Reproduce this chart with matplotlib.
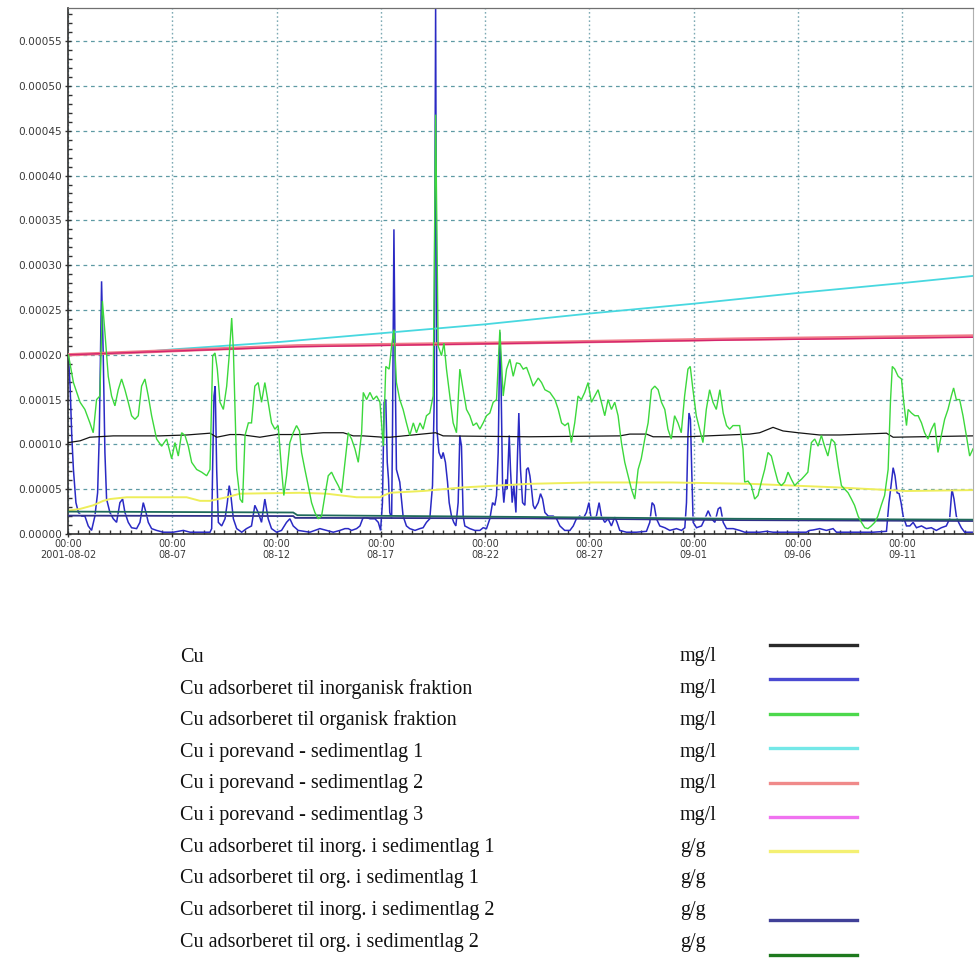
import numpy as np
import pandas as pd
import matplotlib
matplotlib.use("Agg")
import matplotlib.pyplot as plt
import matplotlib.dates as mdates
from matplotlib.lines import Line2D
from matplotlib.ticker import MultipleLocator, FuncFormatter, FixedLocator

START = pd.Timestamp("2001-08-02 00:00")
U = 1e-5  # values below are read in units of 1e-5

# ---- series (day offsets from START, values in 1e-5) ----
cu_days = [0.02, 0.58, 1.05, 2.17, 4.41, 5.69, 6.81, 7.13, 7.77, 8.25, 9.20, 10.0, 11.12,
           12.24, 13.20, 13.68, 14.16, 15.12, 15.44, 17.63, 17.99, 22.15, 26.46, 26.94,
           27.74, 28.06, 29.66, 32.69, 33.17, 33.81, 34.29, 35.01, 36.05, 37.01, 39.25,
           39.57, 43.40]
cu_vals = [10.2, 10.4, 10.8, 10.95, 10.95, 11.05, 11.25, 10.8, 11.1, 11.1, 10.8, 11.1, 11.1,
           11.3, 11.3, 10.95, 10.95, 10.8, 10.8, 11.3, 10.95, 10.85, 10.95, 11.15,
           11.15, 10.85, 10.85, 11.15, 11.3, 11.9, 11.5, 11.3, 11.05, 11.05, 11.25,
           10.8, 10.95]

inorg_days = [0.02, 0.10, 0.18, 0.26, 0.38, 0.50, 0.66, 0.81, 0.97, 1.13, 1.29, 1.42, 1.50,
              1.57, 1.61, 1.69, 1.77, 1.85, 2.01, 2.17, 2.33, 2.49, 2.62, 2.73, 2.89, 3.05,
              3.29, 3.45, 3.61, 3.74, 3.85, 4.01, 4.25, 4.57, 5.05, 5.53, 5.85, 6.33, 6.81,
              6.89, 6.94, 7.00, 7.06, 7.13, 7.21, 7.37, 7.53, 7.64, 7.73, 7.81, 7.93, 8.09,
              8.33, 8.56, 8.80, 8.96, 9.12, 9.28, 9.44, 9.60, 9.76, 10.00, 10.24, 10.48,
              10.64, 10.80, 11.04, 11.60, 12.08, 12.40, 12.72, 13.04, 13.28, 13.44, 13.60,
              13.84, 14.00, 14.13, 14.24, 14.48, 14.72, 14.88, 14.99, 15.08, 15.16, 15.24,
              15.31, 15.37, 15.43, 15.52, 15.56, 15.63, 15.69, 15.75, 15.83, 15.91, 16.07,
              16.23, 16.39, 16.64, 16.87, 17.03, 17.19, 17.35, 17.48, 17.56, 17.63, 17.69,
              17.79, 17.91, 17.99, 18.10, 18.20, 18.28, 18.39, 18.50, 18.60, 18.71, 18.79,
              18.87, 18.95, 19.03, 19.27, 19.51, 19.75, 19.91, 20.07, 20.23, 20.36, 20.47,
              20.55, 20.63, 20.71, 20.77, 20.84, 20.90, 21.00, 21.06, 21.16, 21.22, 21.30,
              21.38, 21.48, 21.56, 21.62, 21.70, 21.80, 21.91, 21.99, 22.07, 22.15, 22.23,
              22.31, 22.39, 22.55, 22.66, 22.76, 22.87, 23.03, 23.27, 23.43, 23.59, 23.82,
              24.07, 24.23, 24.38, 24.54, 24.70, 24.86, 24.98, 25.07, 25.18, 25.34, 25.47,
              25.58, 25.74, 25.90, 26.06, 26.22, 26.33, 26.46, 26.78, 27.26, 27.74, 27.90,
              28.01, 28.11, 28.22, 28.38, 28.62, 28.86, 29.18, 29.42, 29.58, 29.66, 29.73,
              29.78, 29.85, 29.91, 29.98, 30.14, 30.38, 30.54, 30.70, 30.86, 31.02, 31.18,
              31.29, 31.42, 31.58, 31.90, 32.21, 32.45, 33.17, 33.49, 33.81, 34.61, 35.41,
              35.57, 35.73, 36.05, 36.37, 36.69, 36.85, 37.49, 38.61, 39.25, 39.37, 39.45,
              39.57, 39.66, 39.76, 39.86, 39.95, 40.05, 40.21, 40.37, 40.53, 40.69, 40.93,
              41.16, 41.40, 41.64, 41.88, 42.12, 42.28, 42.39, 42.49, 42.60, 42.71, 42.84,
              43.00, 43.40]
inorg_vals = [19.9, 16.5, 11.0, 7.2, 3.5, 2.4, 2.0, 2.0, 0.9, 0.4, 2.0, 4.6, 11.0,
              22.0, 28.2, 19.9, 9.1, 3.9, 2.4, 1.7, 1.3, 3.5, 3.9, 2.4, 1.3, 0.7,
              0.6, 1.3, 3.5, 2.4, 1.3, 0.6, 0.4, 0.2, 0.2, 0.4, 0.2, 0.2, 0.2,
              0.6, 8.0, 15.4, 16.5, 7.2, 1.3, 0.9, 1.7, 3.5, 5.4, 4.3, 1.7, 0.6,
              0.2, 0.6, 0.9, 3.2, 2.4, 1.3, 3.9, 1.7, 0.6, 0.2, 0.4, 1.3,
              1.7, 0.9, 0.4, 0.2, 0.6, 0.4, 0.2, 0.4, 0.6, 0.6, 0.4,
              0.6, 0.9, 1.7, 1.9, 1.7, 1.7, 1.3, 0.4, 3.5, 14.7, 15.0,
              8.0, 6.1, 2.4, 1.7, 11.0, 34.0, 18.4, 7.2, 6.5, 5.8, 2.0,
              0.9, 0.6, 0.4, 0.6, 0.7, 1.3, 1.7, 5.4, 14.7, 59.0, 11.7,
              9.1, 8.4, 9.1, 8.0, 5.8, 3.5, 2.0, 1.3, 0.9, 3.5, 11.0,
              9.8, 2.0, 0.9, 0.6, 0.4, 0.4, 0.7, 0.6, 1.7, 3.5, 3.2,
              4.3, 9.1, 22.5, 16.5, 5.4, 3.5, 6.1, 5.0, 11.0, 7.2, 3.5,
              5.4, 2.4, 9.1, 13.5, 7.2, 3.5, 3.2, 7.2, 7.4, 6.5, 5.0,
              3.2, 2.8, 3.5, 4.5, 3.9, 2.4, 2.0, 2.0, 1.7, 0.9, 0.4,
              0.4, 0.9, 1.7, 2.0, 1.7, 2.4, 3.5, 2.0, 1.7, 2.0, 3.5,
              2.0, 1.3, 1.7, 0.9, 1.9, 1.3, 0.4, 0.2, 0.2, 0.3, 1.3,
              3.5, 3.2, 1.7, 0.9, 0.7, 0.4, 0.6, 0.4, 0.7, 3.5, 11.0,
              13.5, 12.8, 7.2, 1.3, 0.7, 0.9, 1.7, 2.6, 1.7, 1.3, 2.8,
              3.0, 1.3, 0.6, 0.6, 0.4, 0.2, 0.2, 0.3, 0.2, 0.2, 0.2,
              0.4, 0.45, 0.6, 0.4, 0.6, 0.2, 0.2, 0.2, 0.3, 3.5, 5.0,
              7.4, 6.5, 4.6, 4.5, 3.5, 2.0, 0.9, 0.9, 1.3, 0.7, 0.9,
              0.6, 0.7, 0.4, 0.7, 0.9, 1.7, 5.0, 3.9, 2.0, 1.3, 0.7,
              0.2, 0.2]

org_days = [0.02, 0.26, 0.58, 0.81, 1.05, 1.21, 1.37, 1.53, 1.65, 1.77, 1.93, 2.09, 2.25,
            2.41, 2.57, 2.73, 2.89, 3.05, 3.21, 3.37, 3.53, 3.69, 3.85, 4.01, 4.25, 4.49,
            4.73, 4.97, 5.13, 5.29, 5.45, 5.61, 5.77, 5.93, 6.17, 6.41, 6.65, 6.81, 6.94,
            7.05, 7.16, 7.29, 7.45, 7.61, 7.73, 7.85, 7.93, 8.09, 8.25, 8.37, 8.49, 8.65,
            8.80, 8.96, 9.12, 9.28, 9.44, 9.60, 9.76, 9.92, 10.08, 10.24, 10.35, 10.48,
            10.64, 10.80, 10.96, 11.10, 11.20, 11.36, 11.52, 11.68, 11.84, 12.00, 12.16,
            12.32, 12.48, 12.64, 12.80, 12.96, 13.12, 13.28, 13.44, 13.60, 13.76, 13.92,
            14.08, 14.16, 14.32, 14.48, 14.64, 14.80, 14.96, 15.12, 15.24, 15.40, 15.52,
            15.63, 15.75, 15.91, 16.07, 16.23, 16.39, 16.56, 16.71, 16.88, 17.03, 17.19,
            17.35, 17.51, 17.63, 17.75, 17.91, 18.03, 18.15, 18.31, 18.47, 18.63, 18.79,
            18.95, 19.11, 19.27, 19.43, 19.59, 19.75, 19.91, 20.07, 20.23, 20.39, 20.55,
            20.71, 20.87, 21.03, 21.19, 21.35, 21.51, 21.67, 21.83, 21.99, 22.15, 22.31,
            22.55, 22.71, 22.87, 23.11, 23.35, 23.51, 23.67, 23.83, 23.99, 24.14, 24.30,
            24.46, 24.62, 24.78, 24.94, 25.10, 25.26, 25.42, 25.58, 25.74, 25.90, 26.06,
            26.22, 26.38, 26.54, 26.70, 26.86, 27.02, 27.18, 27.34, 27.49, 27.66, 27.82,
            27.98, 28.14, 28.30, 28.46, 28.62, 28.77, 28.93, 29.09, 29.25, 29.41, 29.57,
            29.73, 29.84, 29.97, 30.13, 30.29, 30.45, 30.61, 30.77, 30.93, 31.09, 31.26,
            31.42, 31.58, 31.73, 31.89, 32.05, 32.21, 32.37, 32.45, 32.61, 32.77, 32.93,
            33.09, 33.25, 33.41, 33.57, 33.73, 33.89, 34.05, 34.21, 34.37, 34.53, 34.69,
            34.85, 35.01, 35.17, 35.33, 35.48, 35.65, 35.81, 35.97, 36.13, 36.28, 36.44,
            36.61, 36.77, 36.93, 37.09, 37.25, 37.41, 37.57, 37.72, 37.89, 38.05, 38.21,
            38.36, 38.52, 38.69, 38.84, 39.00, 39.16, 39.33, 39.44, 39.53, 39.65, 39.81,
            39.97, 40.08, 40.21, 40.29, 40.45, 40.61, 40.77, 40.93, 41.08, 41.24, 41.41,
            41.56, 41.72, 41.88, 42.04, 42.20, 42.36, 42.47, 42.60, 42.76, 42.92, 43.08,
            43.24, 43.40]
org_vals = [20.0, 16.9, 14.7, 13.9, 12.4, 11.3, 15.0, 15.4, 26.0, 22.5, 17.6, 15.4, 14.3,
            16.1, 17.3, 16.1, 14.7, 13.2, 12.8, 13.2, 16.5, 17.3, 15.4, 13.2, 10.6, 9.8,
            10.6, 8.4, 10.2, 8.7, 11.3, 11.0, 9.8, 8.0, 7.2, 6.9, 6.5, 7.2, 19.9,
            20.2, 18.4, 14.7, 13.9, 16.5, 19.9, 24.1, 20.6, 7.2, 3.9, 3.5, 11.0, 12.4,
            12.4, 16.5, 16.9, 14.7, 16.9, 14.7, 12.4, 11.7, 12.1, 7.2, 4.3, 6.5,
            10.2, 11.3, 12.1, 11.5, 9.1, 7.2, 5.4, 3.5, 2.4, 1.7, 2.0,
            4.3, 6.5, 6.9, 6.1, 5.4, 4.6, 8.0, 11.3, 10.6, 9.5, 8.0,
            11.3, 15.8, 15.0, 15.8, 15.0, 15.4, 14.7, 9.8, 18.7, 18.4, 21.0,
            22.8, 16.9, 15.0, 13.9, 12.4, 11.0, 12.4, 11.3, 12.4, 11.7, 13.2,
            13.5, 15.4, 46.8, 21.0, 19.9, 21.3, 18.4, 15.4, 12.4, 11.3, 18.4,
            16.1, 13.9, 13.2, 12.1, 12.4, 11.7, 12.4, 13.2, 13.5, 14.7, 15.0,
            22.8, 15.4, 18.4, 19.5, 17.6, 19.1, 19.0, 18.4, 18.6, 17.6, 16.5,
            17.4, 16.9, 16.1, 15.8, 15.0, 13.9, 12.4, 12.1, 12.4, 10.2, 12.4,
            15.4, 15.0, 15.8, 16.9, 14.7, 15.4, 16.1, 14.7, 13.2, 15.0, 13.9,
            14.7, 13.2, 10.2, 8.0, 6.5, 5.0, 3.9, 7.2, 8.4, 10.6, 12.4,
            16.1, 16.5, 16.1, 14.7, 13.9, 11.7, 10.6, 13.2, 12.4, 11.3, 15.4,
            18.4, 18.7, 16.1, 13.2, 11.7, 10.2, 13.9, 16.1, 14.7, 13.9, 16.1,
            13.5, 12.1, 11.7, 12.1, 12.1, 12.1, 9.5, 5.8, 5.9, 5.4, 3.9,
            4.3, 5.8, 7.2, 9.1, 8.7, 7.2, 5.8, 5.4, 5.8, 6.9, 6.1,
            5.4, 5.8, 6.1, 6.5, 6.9, 10.2, 10.6, 9.8, 11.0, 9.8, 8.7,
            10.6, 10.2, 7.6, 5.4, 5.0, 4.6, 3.9, 3.2, 2.0, 1.3, 0.7,
            0.6, 0.9, 1.3, 2.0, 3.2, 4.3, 7.2, 14.7, 18.7, 18.4, 17.6,
            17.3, 14.7, 12.1, 13.9, 13.5, 13.2, 13.2, 12.4, 11.3, 10.6, 11.7,
            12.4, 9.1, 11.0, 12.8, 13.9, 15.4, 16.3, 15.0, 15.0, 13.2, 11.0,
            8.7, 9.5]

pore1_days = [0, 3, 5, 10, 15, 20, 25, 30, 35, 40, 43.4]
pore1_vals = [20.0, 20.2, 20.6, 21.4, 22.4, 23.4, 24.6, 25.7, 26.9, 28.0, 28.8]
pore2_days = [0, 11, 22, 32, 43.4]
pore2_vals = [20.0, 21.0, 21.35, 21.75, 22.1]
pore3_days = [0, 11, 22, 32, 43.4]
pore3_vals = [20.0, 20.9, 21.3, 21.65, 21.95]

sed_inorg1_days = [0, 0.58, 1.21, 1.69, 2.01, 2.81, 4.41, 5.69, 6.33, 6.81, 7.61, 8.25, 11.12,
                   12.40, 13.84, 14.96, 15.44, 17.03, 18.95, 22.15, 25.0, 29.0, 32.7, 36.9,
                   40.2, 43.4]
sed_inorg1_vals = [2.6, 2.8, 3.2, 3.7, 3.9, 4.1, 4.1, 4.1, 3.7, 3.7, 4.1, 4.5, 4.6,
                   4.5, 4.1, 4.1, 4.6, 4.8, 5.2, 5.6, 5.75, 5.75, 5.6, 5.2,
                   4.8, 4.9]
sed_org1_days = [0, 4.3, 43.4]
sed_org1_vals = [2.2, 2.0, 1.8]
sed_inorg2_days = [0, 10.8, 10.9, 22, 32, 43.4]
sed_inorg2_vals = [2.05, 2.0, 1.8, 1.75, 1.55, 1.45]
sed_org2_days = [0, 10.8, 11.0, 22, 32, 43.4]
sed_org2_vals = [2.5, 2.4, 2.1, 1.9, 1.7, 1.6]

names = ["Cu",
         "Cu adsorberet til inorganisk fraktion",
         "Cu adsorberet til organisk fraktion",
         "Cu i porevand - sedimentlag 1",
         "Cu i porevand - sedimentlag 2",
         "Cu i porevand - sedimentlag 3",
         "Cu adsorberet til inorg. i sedimentlag 1",
         "Cu adsorberet til org. i sedimentlag 1",
         "Cu adsorberet til inorg. i sedimentlag 2",
         "Cu adsorberet til org. i sedimentlag 2"]
units = ["mg/l", "mg/l", "mg/l", "mg/l", "mg/l", "mg/l", "g/g", "g/g", "g/g", "g/g"]

tick_days = [0, 5, 10, 15, 20, 25, 30, 35, 40]
tick_labels = ["00:00\n2001-08-02", "00:00\n08-07", "00:00\n08-12", "00:00\n08-17",
               "00:00\n08-22", "00:00\n08-27", "00:00\n09-01", "00:00\n09-06",
               "00:00\n09-11"]

# ---- styles ----
plot_colors = ["#141414", "#2a2ac4", "#3cd83c", "#48d8e0", "#f07a88", "#d4246e",
               "#eeee5a", "#ffffff", "#303088", "#1f6a5a"]
plot_lw = [0.9, 1.1, 1.0, 1.3, 2.4, 1.0, 1.4, 1.0, 1.3, 1.3]
legend_colors = ["#2a2a2a", "#4a4ad2", "#4cd84c", "#74e8e8", "#f08a8a", "#f072f0",
                 "#f4f072", "#ffffff", "#404098", "#1e7a1e"]

series = [(cu_days, cu_vals), (inorg_days, inorg_vals), (org_days, org_vals),
          (pore1_days, pore1_vals), (pore2_days, pore2_vals), (pore3_days, pore3_vals),
          (sed_inorg1_days, sed_inorg1_vals), (sed_org1_days, sed_org1_vals),
          (sed_inorg2_days, sed_inorg2_vals), (sed_org2_days, sed_org2_vals)]


def to_dates(days):
    return START + pd.to_timedelta(np.asarray(days, dtype=float), unit="D")


W, H = 975, 958
fig = plt.figure(figsize=(W / 100, H / 100), dpi=100)
ax = fig.add_axes([68 / W, 1 - 534 / H, (973 - 68) / W, (534 - 8) / H])

zorders = [3, 2, 4, 2.5, 2.6, 2.7, 2.4, 2.3, 2.8, 2.9]
for i, (d, v) in enumerate(series):
    ax.plot(to_dates(d), np.asarray(v) * U, color=plot_colors[i], lw=plot_lw[i],
            zorder=zorders[i], solid_joinstyle="miter")

x0 = START
ax.set_xlim(x0, x0 + pd.Timedelta(days=43.4))
ax.set_ylim(0, 0.000587)

ax.xaxis.set_major_locator(FixedLocator(mdates.date2num(to_dates(tick_days))))
ax.set_xticklabels(tick_labels)
ax.xaxis.set_minor_locator(FixedLocator(mdates.date2num(to_dates(np.arange(0, 43.5, 0.5)))))
ax.yaxis.set_major_locator(MultipleLocator(0.00005))
ax.yaxis.set_minor_locator(MultipleLocator(0.00001))
ax.yaxis.set_major_formatter(FuncFormatter(lambda v, p: f"{v:.5f}"))

ax.tick_params(axis="both", which="major", labelcolor="#3a3a3a",
               color="#303030", length=5, width=1.0, direction="inout")
ax.tick_params(axis="y", which="major", labelsize=7.6, pad=2)
ax.tick_params(axis="x", which="major", labelsize=7.0, pad=1)
ax.tick_params(axis="both", which="minor", color="#303030", length=3, width=1.0,
               direction="in")

ax.grid(True, axis="y", which="major", color="#5e9aa4", ls=(0, (3, 3)), lw=0.9, zorder=0)
ax.grid(True, axis="x", which="major", color="#7eaab4", ls=(0, (1.2, 1.8)), lw=1.0, zorder=0)
ax.set_axisbelow(True)

for s in ["left", "bottom"]:
    ax.spines[s].set_color("#303030")
    ax.spines[s].set_linewidth(1.2)
ax.spines["top"].set_color("#707070")
ax.spines["top"].set_linewidth(0.9)
ax.spines["right"].set_color("#b0b0b0")
ax.spines["right"].set_linewidth(0.8)

# ---- legend block below the chart ----
serif = ["Liberation Serif", "DejaVu Serif"]
for i, (nm, un) in enumerate(zip(names, units)):
    ty = 1 - (657 + 31.7 * i) / H
    fig.text(180 / W, ty, nm, family=serif, fontsize=14.5, va="center", ha="left",
             color="#111111")
    fig.text(680 / W, ty, un, family=serif, fontsize=14.5, va="center", ha="left",
             color="#111111")
    ly = 1 - (645 + 34.4 * i) / H
    fig.add_artist(Line2D([770 / W, 857 / W], [ly, ly], transform=fig.transFigure,
                          color=legend_colors[i], lw=2.4))

fig.savefig("out.png", dpi=100)
